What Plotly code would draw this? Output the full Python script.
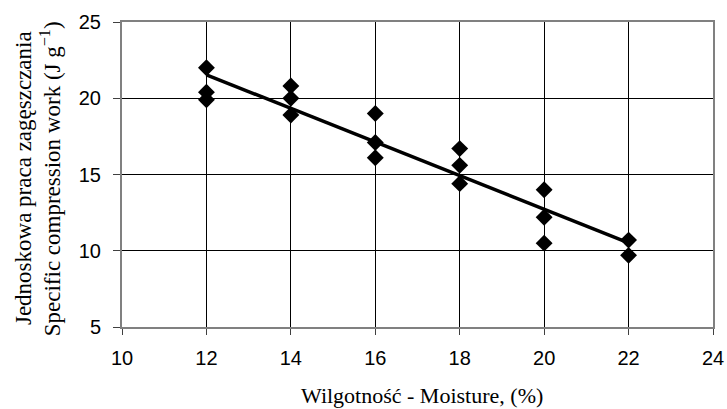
import numpy as np
import plotly.graph_objects as go

# Data
moisture = [12, 12, 12, 14, 14, 14, 16, 16, 16, 18, 18, 18, 20, 20, 20, 22, 22]
work = [22.0, 20.4, 19.9, 20.8, 20.0, 18.9, 19.0, 17.1, 16.1,
        16.7, 15.6, 14.4, 14.0, 12.2, 10.5, 10.7, 9.7]

x_ticks = [10, 12, 14, 16, 18, 20, 22, 24]
y_ticks = [5, 10, 15, 20, 25]

y_title_pl = "Jednoskowa praca zagęszczania"
y_title_en = "Specific compression work (J g<sup>−1</sup>)"
x_title = "Wilgotność - Moisture, (%)"

# Linear trend line (least squares) through the measured points
slope, intercept = np.polyfit(moisture, work, 1)
trend_x = [min(moisture), max(moisture)]
trend_y = [slope * v + intercept for v in trend_x]

fig = go.Figure()
fig.add_trace(go.Scatter(
    x=trend_x, y=trend_y, mode="lines",
    line=dict(color="black", width=3.5), hoverinfo="skip", showlegend=False))
fig.add_trace(go.Scatter(
    x=moisture, y=work, mode="markers",
    marker=dict(symbol="diamond", size=13, color="black"),
    showlegend=False))

tick_font = dict(family="Liberation Sans, Arial", size=20, color="black")
title_font = dict(family="Liberation Serif", size=22, color="black")
ytitle_font = dict(family="Liberation Serif", size=23, color="black")

fig.update_layout(
    width=727, height=409,
    margin=dict(l=122, r=14, t=22, b=82),
    paper_bgcolor="white", plot_bgcolor="white",
    xaxis=dict(
        range=[10, 24], tickvals=x_ticks, ticktext=[str(v) for v in x_ticks],
        showgrid=True, gridcolor="black", gridwidth=1,
        showline=True, linecolor="#808080", linewidth=2, mirror=True,
        ticks="outside", ticklen=6, tickcolor="#404040", tickwidth=1,
        tickfont=tick_font, ticklabelstandoff=6, zeroline=False,
        automargin=False,
    ),
    yaxis=dict(
        range=[5, 25], tickvals=y_ticks, ticktext=[str(v) for v in y_ticks],
        showgrid=True, gridcolor="black", gridwidth=1,
        showline=True, linecolor="#808080", linewidth=2, mirror=True,
        ticks="outside", ticklen=7, tickcolor="#404040", tickwidth=1,
        tickfont=tick_font, ticklabelstandoff=8, zeroline=False,
        automargin=False,
    ),
    annotations=[
        dict(text=x_title, xref="paper", yref="paper", x=0.508, y=-0.226,
             xanchor="center", yanchor="middle", showarrow=False, font=title_font),
        dict(text=y_title_pl, xref="paper", yref="paper", x=-0.1665, y=0.487,
             xanchor="center", yanchor="middle", textangle=-90, showarrow=False,
             font=ytitle_font),
        dict(text=y_title_en, xref="paper", yref="paper", x=-0.1205, y=0.487,
             xanchor="center", yanchor="middle", textangle=-90, showarrow=False,
             font=ytitle_font),
    ],
)

# Remove the browser's default body margin so the figure fills the window.
fig.write_html("out.html", config={"displayModeBar": False},
               post_script="document.body.style.margin='0';")
